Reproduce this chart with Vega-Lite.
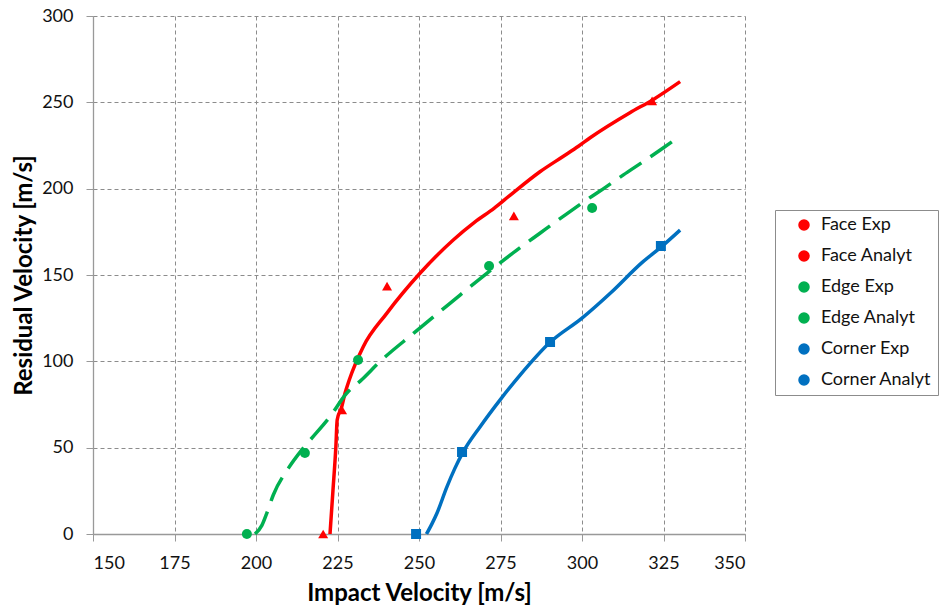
{
  "$schema": "https://vega.github.io/schema/vega-lite/v6.json",
  "width": 652,
  "height": 518,
  "autosize": "none",
  "padding": {"left": 93, "top": 16, "right": 197, "bottom": 79},
  "background": "white",
  "config": {
    "view": {"stroke": null},
    "font": "Lato",
    "axis": {
      "labelFont": "Lato",
      "labelFontSize": 18,
      "labelColor": "#111",
      "titleFont": "Lato",
      "titleFontSize": 24,
      "titleFontWeight": "bold",
      "titleColor": "#000",
      "domainColor": "#999",
      "domainWidth": 1.3,
      "tickColor": "#999",
      "tickSize": 7,
      "gridColor": "#8c8c8c",
      "gridDash": [4, 3],
      "gridWidth": 1
    }
  },
  "data": {
    "values": [
      {"series": "Face Exp", "type": "Exp", "x": 220.6, "y": 0},
      {"series": "Face Exp", "type": "Exp", "x": 226.4, "y": 71.8},
      {"series": "Face Exp", "type": "Exp", "x": 240.2, "y": 143.6},
      {"series": "Face Exp", "type": "Exp", "x": 279.1, "y": 184.2},
      {"series": "Face Exp", "type": "Exp", "x": 321.5, "y": 250.8},
      {"series": "Edge Exp", "type": "Exp", "x": 197.2, "y": 0},
      {"series": "Edge Exp", "type": "Exp", "x": 215.0, "y": 46.9},
      {"series": "Edge Exp", "type": "Exp", "x": 231.3, "y": 100.8},
      {"series": "Edge Exp", "type": "Exp", "x": 271.5, "y": 155.2},
      {"series": "Edge Exp", "type": "Exp", "x": 303.1, "y": 188.8},
      {"series": "Corner Exp", "type": "Exp", "x": 249.1, "y": 0},
      {"series": "Corner Exp", "type": "Exp", "x": 263.2, "y": 47.5},
      {"series": "Corner Exp", "type": "Exp", "x": 290.2, "y": 111.2},
      {"series": "Corner Exp", "type": "Exp", "x": 324.2, "y": 166.8},

      {"series": "Face Analyt", "type": "Analyt", "x": 222.7, "y": 0},
      {"series": "Face Analyt", "type": "Analyt", "x": 223.6, "y": 25},
      {"series": "Face Analyt", "type": "Analyt", "x": 224.5, "y": 50.6},
      {"series": "Face Analyt", "type": "Analyt", "x": 224.9, "y": 66},
      {"series": "Face Analyt", "type": "Analyt", "x": 226.3, "y": 73.7},
      {"series": "Face Analyt", "type": "Analyt", "x": 227.3, "y": 81.5},
      {"series": "Face Analyt", "type": "Analyt", "x": 228.6, "y": 89.2},
      {"series": "Face Analyt", "type": "Analyt", "x": 232.9, "y": 108.5},
      {"series": "Face Analyt", "type": "Analyt", "x": 240.1, "y": 127.8},
      {"series": "Face Analyt", "type": "Analyt", "x": 250.3, "y": 151},
      {"series": "Face Analyt", "type": "Analyt", "x": 260.5, "y": 170.3},
      {"series": "Face Analyt", "type": "Analyt", "x": 267.0, "y": 180.5},
      {"series": "Face Analyt", "type": "Analyt", "x": 273.1, "y": 188.7},
      {"series": "Face Analyt", "type": "Analyt", "x": 277.9, "y": 196.1},
      {"series": "Face Analyt", "type": "Analyt", "x": 287.1, "y": 209.8},
      {"series": "Face Analyt", "type": "Analyt", "x": 294.3, "y": 218.8},
      {"series": "Face Analyt", "type": "Analyt", "x": 298.9, "y": 224.6},
      {"series": "Face Analyt", "type": "Analyt", "x": 302.5, "y": 229.5},
      {"series": "Face Analyt", "type": "Analyt", "x": 314.7, "y": 244},
      {"series": "Face Analyt", "type": "Analyt", "x": 321.9, "y": 251.7},
      {"series": "Face Analyt", "type": "Analyt", "x": 330.1, "y": 262},

      {"series": "Edge Analyt", "type": "Analyt", "x": 199.7, "y": 0},
      {"series": "Edge Analyt", "type": "Analyt", "x": 201.8, "y": 5},
      {"series": "Edge Analyt", "type": "Analyt", "x": 203.3, "y": 12},
      {"series": "Edge Analyt", "type": "Analyt", "x": 205.3, "y": 22.6},
      {"series": "Edge Analyt", "type": "Analyt", "x": 209.9, "y": 38},
      {"series": "Edge Analyt", "type": "Analyt", "x": 214.0, "y": 48.6},
      {"series": "Edge Analyt", "type": "Analyt", "x": 216.6, "y": 54.4},
      {"series": "Edge Analyt", "type": "Analyt", "x": 222.7, "y": 68},
      {"series": "Edge Analyt", "type": "Analyt", "x": 227.8, "y": 81.5},
      {"series": "Edge Analyt", "type": "Analyt", "x": 232.5, "y": 89.5},
      {"series": "Edge Analyt", "type": "Analyt", "x": 238.0, "y": 99.8},
      {"series": "Edge Analyt", "type": "Analyt", "x": 248.3, "y": 116.2},
      {"series": "Edge Analyt", "type": "Analyt", "x": 259.5, "y": 133.6},
      {"series": "Edge Analyt", "type": "Analyt", "x": 270.8, "y": 151},
      {"series": "Edge Analyt", "type": "Analyt", "x": 279.7, "y": 164},
      {"series": "Edge Analyt", "type": "Analyt", "x": 287.1, "y": 174.2},
      {"series": "Edge Analyt", "type": "Analyt", "x": 295.0, "y": 185},
      {"series": "Edge Analyt", "type": "Analyt", "x": 301.4, "y": 193.5},
      {"series": "Edge Analyt", "type": "Analyt", "x": 307.5, "y": 201.2},
      {"series": "Edge Analyt", "type": "Analyt", "x": 312.7, "y": 208},
      {"series": "Edge Analyt", "type": "Analyt", "x": 318.8, "y": 215.7},
      {"series": "Edge Analyt", "type": "Analyt", "x": 324.0, "y": 222.4},
      {"series": "Edge Analyt", "type": "Analyt", "x": 330.1, "y": 230.5},

      {"series": "Corner Analyt", "type": "Analyt", "x": 252.3, "y": 0},
      {"series": "Corner Analyt", "type": "Analyt", "x": 254.0, "y": 6},
      {"series": "Corner Analyt", "type": "Analyt", "x": 255.5, "y": 12},
      {"series": "Corner Analyt", "type": "Analyt", "x": 258.5, "y": 27},
      {"series": "Corner Analyt", "type": "Analyt", "x": 261.0, "y": 38},
      {"series": "Corner Analyt", "type": "Analyt", "x": 263.6, "y": 47.7},
      {"series": "Corner Analyt", "type": "Analyt", "x": 268.7, "y": 62},
      {"series": "Corner Analyt", "type": "Analyt", "x": 275.0, "y": 78},
      {"series": "Corner Analyt", "type": "Analyt", "x": 281.0, "y": 92},
      {"series": "Corner Analyt", "type": "Analyt", "x": 290.2, "y": 111},
      {"series": "Corner Analyt", "type": "Analyt", "x": 300.0, "y": 125},
      {"series": "Corner Analyt", "type": "Analyt", "x": 309.0, "y": 140},
      {"series": "Corner Analyt", "type": "Analyt", "x": 318.3, "y": 157},
      {"series": "Corner Analyt", "type": "Analyt", "x": 324.4, "y": 166.4},
      {"series": "Corner Analyt", "type": "Analyt", "x": 330.1, "y": 176}
    ]
  },
  "layer": [
    {
      "transform": [{"filter": "datum.series === 'Face Analyt' || datum.series === 'Corner Analyt'"}],
      "mark": {"type": "line", "strokeWidth": 3.5, "interpolate": "monotone"},
      "encoding": {
        "x": {
          "field": "x",
          "type": "quantitative",
          "scale": {"domain": [150, 350], "nice": false, "zero": false},
          "axis": {"values": [150, 175, 200, 225, 250, 275, 300, 325, 350], "title": "Impact Velocity [m/s]", "labelPadding": 13, "titlePadding": 9}
        },
        "y": {
          "field": "y",
          "type": "quantitative",
          "scale": {"domain": [0, 300], "nice": false},
          "axis": {"values": [0, 50, 100, 150, 200, 250, 300], "title": "Residual Velocity [m/s]", "labelPadding": 13, "titlePadding": 5}
        },
        "color": {
          "field": "series",
          "type": "nominal",
          "scale": {
            "domain": ["Face Exp", "Face Analyt", "Edge Exp", "Edge Analyt", "Corner Exp", "Corner Analyt"],
            "range": ["#ff0000", "#ff0000", "#00b050", "#00b050", "#0070c0", "#0070c0"]
          },
          "legend": {
            "title": null,
            "orient": "none",
            "legendX": 682,
            "legendY": 194,
            "padding": 6,
            "strokeColor": "#8c8c8c",
            "fillColor": "white",
            "labelFont": "Lato",
            "labelFontSize": 18,
            "labelColor": "#111",
            "symbolSize": 100,
            "symbolOffset": 14,
            "labelOffset": 8,
            "rowPadding": 13,
            "labelLimit": 300
          }
        }
      }
    },
    {
      "transform": [{"filter": "datum.series === 'Edge Analyt'"}],
      "mark": {"type": "line", "strokeWidth": 3.5, "strokeDash": [26, 11], "interpolate": "monotone"},
      "encoding": {
        "x": {"field": "x", "type": "quantitative"},
        "y": {"field": "y", "type": "quantitative"},
        "color": {"field": "series", "type": "nominal"}
      }
    },
    {
      "transform": [{"filter": "datum.type === 'Exp'"}],
      "mark": {"type": "point", "filled": true, "opacity": 1, "size": 100},
      "encoding": {
        "x": {"field": "x", "type": "quantitative"},
        "y": {"field": "y", "type": "quantitative"},
        "color": {"field": "series", "type": "nominal"},
        "shape": {
          "field": "series",
          "type": "nominal",
          "scale": {"domain": ["Face Exp", "Edge Exp", "Corner Exp"], "range": ["triangle-up", "circle", "square"]},
          "legend": null
        }
      }
    }
  ]
}
